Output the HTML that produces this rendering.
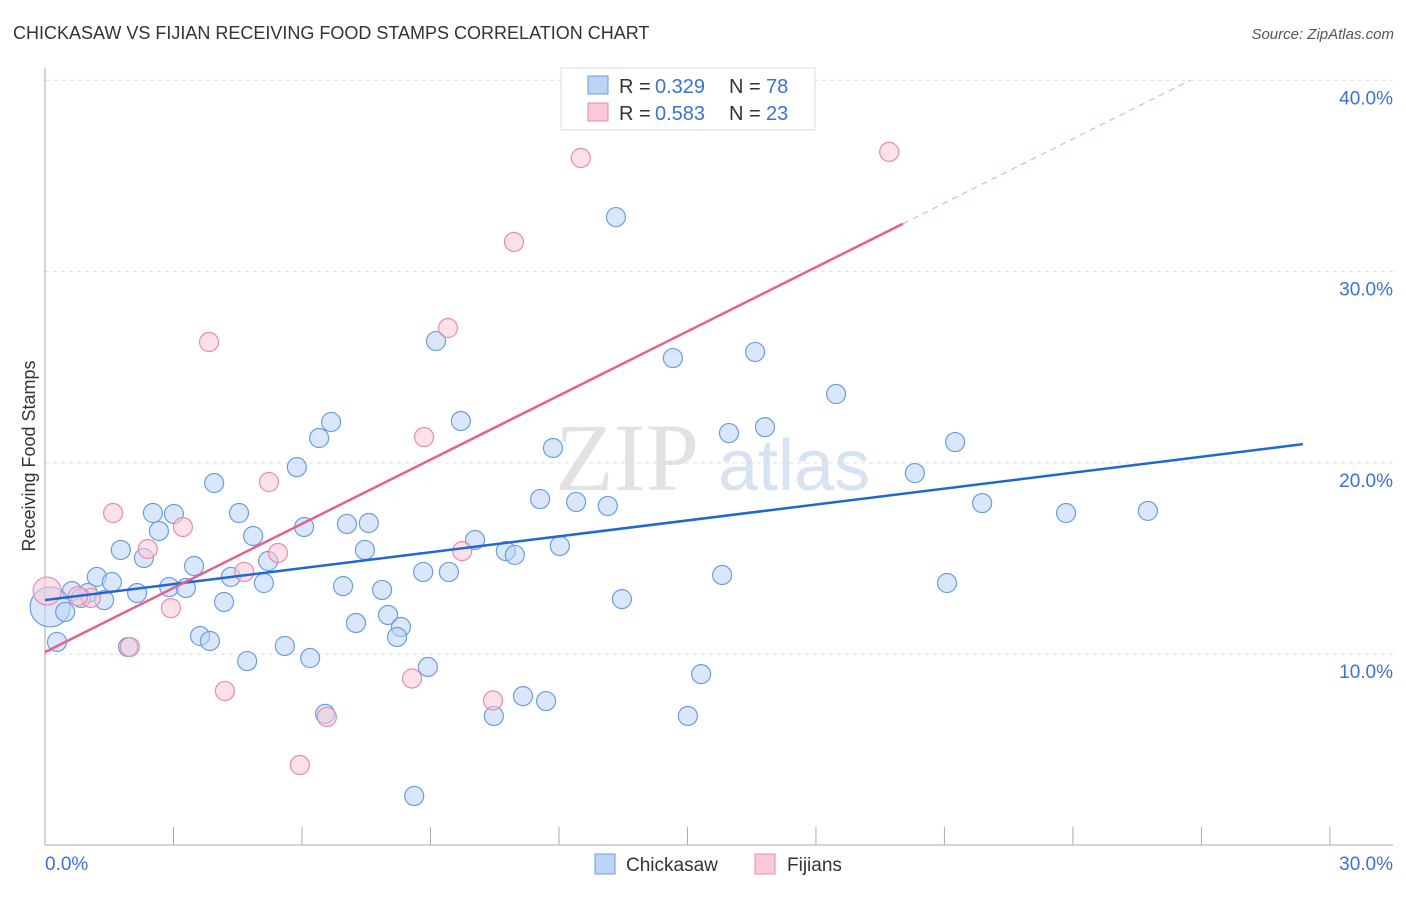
<!DOCTYPE html>
<html><head><meta charset="utf-8"><style>
body{margin:0;background:#fff;font-family:"Liberation Sans",sans-serif}
svg text{font-family:"Liberation Sans",sans-serif}
</style></head><body>
<svg id="chart" width="1406" height="892" xmlns="http://www.w3.org/2000/svg">
<text x="13" y="39" font-size="18" fill="#333">CHICKASAW VS FIJIAN RECEIVING FOOD STAMPS CORRELATION CHART</text>
<text x="1394" y="39" font-size="15" fill="#555" text-anchor="end" font-style="italic">Source: ZipAtlas.com</text>
<g><text x="555" y="490" font-size="96" fill="#e2e2e2" font-family="Liberation Serif" style="font-family:'Liberation Serif',serif">ZIP</text><text x="718" y="490" font-size="72" fill="#d6e3f4">atlas</text></g>
<g id="grid"></g><g id="axes"></g><g id="marks"></g>
<text transform="translate(35,456) rotate(-90)" font-size="18" fill="#333" text-anchor="middle">Receiving Food Stamps</text>
<g>
<rect x="561" y="68" width="254" height="62" fill="#fff" stroke="#ddd"/>
<rect x="588" y="76" width="20" height="18" fill="#bcd4f5" stroke="#6a9de0"/>
<rect x="588" y="103" width="20" height="18" fill="#f9c9d7" stroke="#ea8aa8"/>
<text x="619" y="93" font-size="20" fill="#333">R =</text><text x="655" y="93" font-size="20" fill="#3a72d8">0.329</text>
<text x="729" y="93" font-size="20" fill="#333">N =</text><text x="766" y="93" font-size="20" fill="#3a72d8">78</text>
<text x="619" y="120" font-size="20" fill="#333">R =</text><text x="655" y="120" font-size="20" fill="#3a72d8">0.583</text>
<text x="729" y="120" font-size="20" fill="#333">N =</text><text x="766" y="120" font-size="20" fill="#3a72d8">23</text>
</g>
<g>
<rect x="595" y="854" width="20" height="20" fill="#bcd4f5" stroke="#6a9de0"/>
<text x="626" y="871" font-size="19" fill="#333">Chickasaw</text>
<rect x="755" y="854" width="20" height="20" fill="#f9c9d7" stroke="#ea8aa8"/>
<text x="787" y="871" font-size="19" fill="#333">Fijians</text>
</g>
</svg>
<script>
const blueX=[13.33,9.13,14.66,16.58,18.47,9.71,6.68,6.40,11.86,15.97,16.81,21.25,5.88,20.31,3.95,11.56,12.40,13.14,21.88,23.84,25.75,2.52,3.01,4.53,2.66,6.05,7.05,7.56,4.86,10.04,1.77,2.31,7.47,10.76,10.97,12.02,3.48,5.21,1.21,1.56,4.34,8.83,9.43,15.81,2.90,3.29,5.11,6.96,7.87,21.06,0.63,1.00,2.15,1.38,0.84,4.18,13.47,0.12,0.47,8.01,7.26,8.31,3.62,3.85,8.22,0.28,1.94,5.60,4.72,6.19,8.94,15.32,11.16,11.70,6.54,10.48,15.01,8.62];
const blueY=[32.85,26.37,25.48,25.80,23.60,22.19,22.14,21.30,20.78,21.56,21.87,21.09,19.78,19.47,18.95,18.11,17.96,17.75,17.90,17.38,17.49,17.38,17.33,17.38,16.44,16.65,16.81,16.86,16.18,15.97,15.45,15.03,15.45,15.39,15.19,15.66,14.61,14.87,14.04,13.77,14.04,14.30,14.30,14.14,13.51,13.46,13.72,13.56,13.36,13.72,13.30,13.20,13.20,12.83,12.94,12.73,12.88,12.47,12.21,12.05,11.63,11.42,10.95,10.69,10.90,10.64,10.38,10.43,9.64,9.80,9.33,8.96,7.81,7.55,6.88,6.77,6.77,2.59];
const pinkX=[12.51,19.71,10.95,9.41,3.83,8.85,5.23,1.59,3.22,2.40,5.44,4.65,0.05,1.07,1.98,2.94,9.74,4.20,8.57,10.46,6.58,5.95,0.77];
const pinkY=[35.94,36.26,31.55,27.05,26.32,21.35,19.00,17.38,16.65,15.50,15.29,14.30,13.30,12.94,10.38,12.41,15.39,8.08,8.73,7.58,6.72,4.21,13.04];
const yTicks=[10,20,30,40];
const yTickLabels=["10.0%","20.0%","30.0%","40.0%"];
const xTickLabels=["0.0%","30.0%"];
const blueTrend=[12.83,20.98];
const pinkTrend=[10.11,32.5,40.0];
const NS="http://www.w3.org/2000/svg";
const sx=v=>45+v*42.83, sy=v=>845.5-v*19.13;
function mk(tag,attrs,parent){const e=document.createElementNS(NS,tag);for(const k in attrs)e.setAttribute(k,attrs[k]);document.getElementById(parent).appendChild(e);return e;}
yTicks.forEach((t,i)=>{
 const g=mk('line',{x1:45,x2:1393,y1:sy(t),y2:sy(t),stroke:'#ddd','stroke-dasharray':'4,4'},'grid');
 
 
 const l=mk('text',{x:1393,y:sy(t)+24,'font-size':19,fill:'#3a72d8','text-anchor':'end'},'axes');
 l.textContent=yTickLabels[i];
 
 
});
let a=mk('line',{x1:45,x2:45,y1:68,y2:845,stroke:'#aaa'},'axes');


a=mk('line',{x1:45,x2:1393,y1:845,y2:845,stroke:'#aaa'},'axes');


for(let i=1;i<=10;i++){const t=mk('line',{x1:sx(i*3),x2:sx(i*3),y1:827,y2:845,stroke:'#aaa'},'axes');
 
 }
[[0,'start',45],[30,'end',1393]].forEach((d,i)=>{const l=mk('text',{x:d[2],y:870,'font-size':19,fill:'#3a72d8','text-anchor':d[1]},'axes');l.textContent=xTickLabels[i];
 
 });
function dot(x,y,r,fill,stroke,name){const c=mk('circle',{cx:sx(x),cy:sy(y),r:r,fill:fill,'fill-opacity':0.55,stroke:stroke,'stroke-width':1.2},'marks');
 
 }
blueX.forEach((x,i)=>dot(x,blueY[i],i===57?20:9.5,'#bcd4f5','#6a9de0','chickasaw-point'));
pinkX.forEach((x,i)=>dot(x,pinkY[i],i===12?14:9.5,'#f9c9d7','#ea8aa8','fijians-point'));
let tl=mk('line',{x1:sx(0),y1:sy(blueTrend[0]),x2:sx(29.37),y2:sy(blueTrend[1]),stroke:'#1f67d2','stroke-width':2.5},'marks');


const ps=(pinkTrend[1]-pinkTrend[0]);
tl=mk('line',{x1:sx(0),y1:sy(pinkTrend[0]),x2:sx(20.03),y2:sy(pinkTrend[1]),stroke:'#e8608a','stroke-width':2.5},'marks');


tl=mk('line',{x1:sx(20.03),y1:sy(pinkTrend[1]),x2:sx(20.03*(pinkTrend[2]-pinkTrend[0])/ps),y2:sy(pinkTrend[2]),stroke:'#eea0b8','stroke-width':1,'stroke-dasharray':'6,5'},'marks');


</script>
</body></html>
